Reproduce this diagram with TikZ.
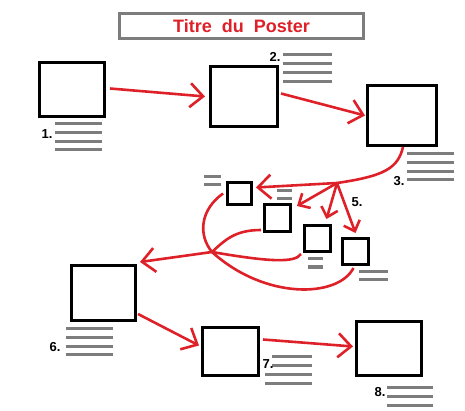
\documentclass[tikz,border=0pt]{standalone}
\usepackage{fontspec}
\setmainfont{Liberation Sans}
\usetikzlibrary{arrows.meta, calc}
\definecolor{pen}{RGB}{222, 32, 40}
\definecolor{frame}{RGB}{125, 125, 125}

\begin{document}
\begin{tikzpicture}[x=1pt, y=-1pt,
    panel/.style={draw, line width=3pt, inner sep=0pt},
    link/.style={draw=pen, line width=2.6pt},
    arr/.style={link, -{Straight Barb[length=13pt, width=24pt]}},
    shortarr/.style={link, -{Straight Barb[length=9pt, width=17pt]}},
    hint/.style={draw=frame, line width=3pt},
    num/.style={font=\bfseries\fontsize{13}{13}\selectfont, inner sep=0pt}
]
\useasboundingbox (0,0) rectangle (465,411);

\node[draw=frame, line width=3pt, minimum width=244pt, minimum height=25pt,
      text=pen, font=\bfseries\fontsize{18}{18}\selectfont] (title) at (241.5,26) {Titre~~du~~Poster\hspace{16pt}};

% big panels
\node[panel, minimum width=65pt, minimum height=54pt] (b1) at (72,89.5) {};
\node[panel, minimum width=67pt, minimum height=60pt] (b2) at (244,96.5) {};
\node[panel, minimum width=69pt, minimum height=60pt] (b3) at (402,115.5) {};
\node[panel, minimum width=64pt, minimum height=55pt] (b6) at (103.5,293) {};
\node[panel, minimum width=56pt, minimum height=48pt] (b7) at (230.5,351.5) {};
\node[panel, minimum width=65pt, minimum height=54pt] (b8) at (389,348.5) {};

% small panels
\node[panel, minimum width=24pt, minimum height=22pt] (s1) at (239.5,193.5) {};
\node[panel, minimum width=26pt, minimum height=27pt] (s2) at (277.5,218) {};
\node[panel, minimum width=26pt, minimum height=26pt] (s3) at (317.5,238.5) {};
\node[panel, minimum width=26pt, minimum height=26pt] (s4) at (355.5,251.5) {};

% text lines
\foreach \y in {124,133,142,150} \draw[hint] (55,\y) -- (102,\y);
\foreach \y in {55,64,73,82} \draw[hint] (283,\y) -- (332,\y);
\foreach \y in {154,163,172,180} \draw[hint] (407,\y) -- (454,\y);
\foreach \y in {177,185} \draw[hint] (204,\y) -- (221,\y);
\foreach \y in {191,199} \draw[hint] (277,\y) -- (292,\y);
\foreach \y in {259,267} \draw[hint] (308,\y) -- (323,\y);
\foreach \y in {271,279} \draw[hint] (359,\y) -- (388,\y);
\foreach \y in {328,337,346,354} \draw[hint] (66,\y) -- (113,\y);
\foreach \y in {356,365} \draw[hint] (272,\y) -- (312,\y);
\foreach \y in {374,383} \draw[hint] (265,\y) -- (312,\y);
\foreach \y in {387,396,405} \draw[hint] (387,\y) -- (433,\y);

\node[num] (n1) at (47,134) {1.};
\node[num] (n2) at (275,57) {2.};
\node[num] (n3) at (399,181) {3.};
\node[num] (n5) at (357,202) {5.};
\node[num] (n6) at (55,347) {6.};
\node[num] (n7) at (268,364) {7.};
\node[num] (n8) at (380,392) {8.};

\coordinate (hubA) at (337,183);
\coordinate (hubB) at (212,252);

\draw[arr] ($(b1.east)+(4,-1)$) -- ($(b2.west)+(-4,0)$);
\draw[arr] ($(b2.east)+(2,-3)$) -- ($(b3.west)+(-1,0)$);
\draw[link] ($(b3.south)+(1,0)$) .. controls (398,168) and (385,176) .. (hubA);
\draw[arr] (hubA) -- ($(s1.east)+(3,-6)$);
\draw[shortarr] (hubA) -- ($(s2.north east)+(5,3)$);
\draw[shortarr] (hubA) -- ($(s3.north)+(9,-5)$);
\draw[shortarr] (hubA) -- ($(s4.north)+(0,-4)$);
\draw[link] ($(s1.west)+(-3,0)$) .. controls (200,210) and (198,235) .. (hubB);
\draw[link] ($(s2.south west)+(-2,-3)$) .. controls (235,230) and (225,240) .. (hubB);
\draw[link] ($(s3.south west)+(-2,1)$) .. controls (295,263) and (270,262) .. (hubB);
\draw[link] ($(s4.south)+(-2,2)$) .. controls (338,298) and (265,300) .. (hubB);
\draw[arr] (hubB) -- ($(b6.north east)+(3,-2)$);
\draw[arr] ($(b6.east)+(1,21)$) -- ($(b7.west)+(-2,-6)$);
\draw[arr] ($(b7.east)+(3,-12)$) -- ($(b8.west)+(-2,-2)$);
\end{tikzpicture}
\end{document}
